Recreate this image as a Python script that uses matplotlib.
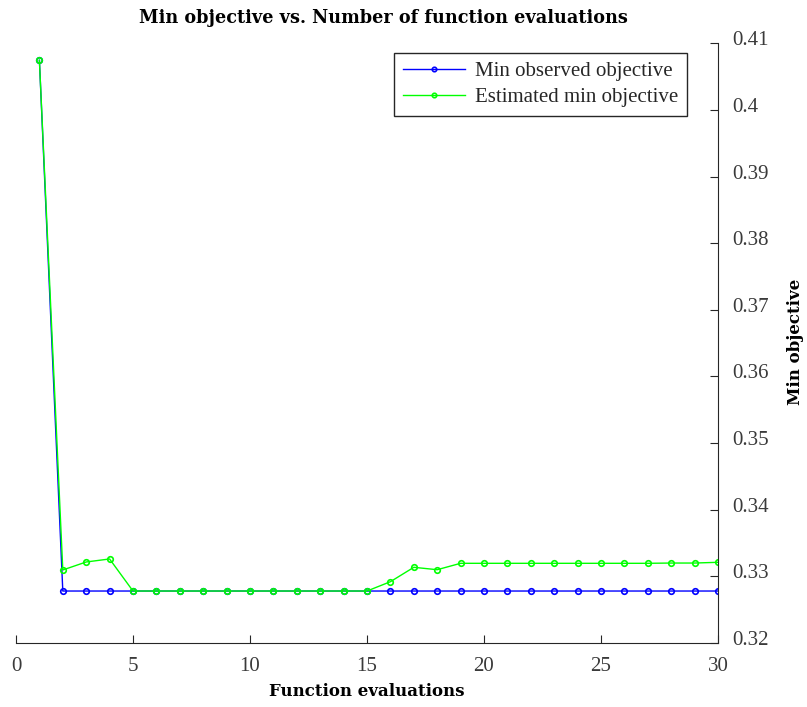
import matplotlib
matplotlib.use('Agg')
import matplotlib.pyplot as plt
from matplotlib.transforms import ScaledTranslation

# evaluations 1..30
evals = list(range(1, 31))
min_observed = [0.40745] + [0.3278] * 29
est_min = [0.40745, 0.33096, 0.33216, 0.33261,
           0.3278, 0.3278, 0.3278, 0.3278, 0.3278, 0.3278,
           0.3278, 0.3278, 0.3278, 0.3278, 0.3278,
           0.3292, 0.33136, 0.3310, 0.33196, 0.33196,
           0.33196, 0.33196, 0.33196, 0.33196, 0.33196,
           0.33196, 0.33196, 0.3320, 0.3320, 0.33211]

xticks = [0, 5, 10, 15, 20, 25, 30]
yticks = [0.32, 0.33, 0.34, 0.35, 0.36, 0.37, 0.38, 0.39, 0.4, 0.41]
ytick_labels = ['0.32', '0.33', '0.34', '0.35', '0.36', '0.37', '0.38', '0.39', '0.4', '0.41']

axcol = '#262626'
labcol = '#3a3a3a'
tickfont = 'Liberation Serif'
boldfont = 'DejaVu Serif'

fig = plt.figure(figsize=(8.07, 7.07), dpi=100)
ax = fig.add_axes([16/807, 1 - 643/707, (718-16)/807, (643-43.3)/707])

ax.plot(evals, min_observed, color='blue', linewidth=1, marker='o', ms=4,
        mfc='none', mec='blue', mew=1.2, label='Min observed objective')
ax.plot(evals, est_min, color='#00ff00', linewidth=1, marker='o', ms=4,
        mfc='none', mec='#00ff00', mew=1.2, label='Estimated min objective')

ax.set_xlim(0, 30)
ax.set_ylim(0.32, 0.41)
ax.set_xticks(xticks)
ax.set_xticklabels([str(t) for t in xticks], fontfamily=tickfont, fontsize=15, color=labcol)
ax.yaxis.tick_right()
ax.set_yticks(yticks)
ax.set_yticklabels(ytick_labels, fontfamily=tickfont, fontsize=15, color=labcol)
ax.tick_params(direction='in', length=6, width=0.8, color=axcol)
ax.tick_params(axis='x', pad=10)
ax.tick_params(axis='y', pad=10)
# matlab puts the right-axis labels a bit above the tick
for lab in ax.get_yticklabels():
    lab.set_transform(lab.get_transform() + ScaledTranslation(0, 0.05, fig.dpi_scale_trans))

for s in ['top', 'left']:
    ax.spines[s].set_visible(False)
for s in ['bottom', 'right']:
    ax.spines[s].set_color(axcol)
    ax.spines[s].set_linewidth(0.8)

fig.text(383/807, 1 - 18/707, 'Min objective vs. Number of function evaluations',
         ha='center', va='center', fontfamily=boldfont, fontweight='bold', fontsize=12.7)
fig.text(367/807, 1 - 692/707, 'Function evaluations', ha='center', va='center',
         fontfamily=boldfont, fontweight='bold', fontsize=12)
fig.text(795/807, 1 - 342/707, 'Min objective', ha='center', va='center', rotation=90,
         fontfamily=boldfont, fontweight='bold', fontsize=12)

leg = ax.legend(loc='upper right', bbox_to_anchor=(687/807, 1 - 53/707),
                bbox_transform=fig.transFigure, prop={'family': tickfont, 'size': 15},
                fancybox=False, edgecolor=axcol, framealpha=1, borderpad=0.4,
                borderaxespad=0, handlelength=3.0, handletextpad=0.5,
                labelspacing=0.33, markerscale=0.8)
leg.get_frame().set_linewidth(1.0)
for t in leg.get_texts():
    t.set_color(axcol)

fig.savefig('out.png', dpi=100)
